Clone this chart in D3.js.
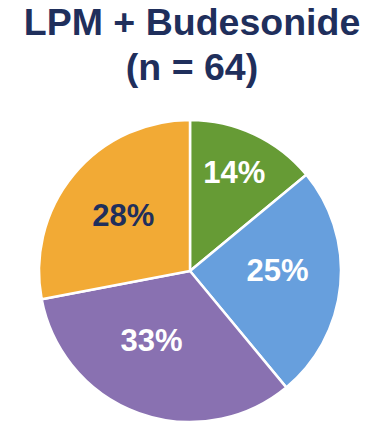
<!DOCTYPE html>
<html>
<head>
<meta charset="utf-8">
<script src="https://cdn.jsdelivr.net/npm/d3@7"></script>
<style>
  html, body { margin: 0; padding: 0; background: #ffffff; }
  svg { display: block; }
</style>
</head>
<body>
<svg id="chart" width="367" height="428"></svg>
<script>
// Share of patients per category, clockwise from 12 o'clock
const categories = ["A", "B", "C", "D"];
const shares = [14, 25, 33, 28];
const sliceColors = ["#669B35", "#679FDD", "#8971B1", "#F2AA35"];
const labelColors = ["#ffffff", "#ffffff", "#ffffff", "#1F2F5C"];
const titleLines = ["LPM + Budesonide", "(n = 64)"];

const svg = d3.select("#chart");
const W = 367;
const cx = 190, cy = 271, R = 151;

// Title
svg.append("g")
  .selectAll("text")
  .data(titleLines)
  .join("text")
  .attr("x", 192)
  .attr("y", (d, i) => 35 + i * 45)
  .attr("text-anchor", "middle")
  .attr("font-family", "'Liberation Sans', Arial, sans-serif")
  .attr("font-weight", "bold")
  .attr("font-size", 37.5)
  .attr("fill", "#1F2F5C")
  .text(d => d);

const data = categories.map((c, i) => ({ cat: c, value: shares[i], i }));

const pie = d3.pie().value(d => d.value).sort(null);
const arcs = pie(data);
const arc = d3.arc().innerRadius(0).outerRadius(R);
const labelArc = d3.arc().innerRadius(R * 0.62).outerRadius(R * 0.62);

// Fine placement of the percentage labels inside each wedge
const labelNudge = { A: [4.5, -14.5], B: [-5.6, -10], C: [-6.7, -19.5], D: [5.4, 4] };

const g = svg.append("g").attr("transform", `translate(${cx},${cy})`);

g.selectAll("path")
  .data(arcs)
  .join("path")
  .attr("d", arc)
  .attr("fill", d => sliceColors[d.data.i])
  .attr("stroke", "#ffffff")
  .attr("stroke-width", 2.5)
  .attr("stroke-linejoin", "miter");

g.selectAll("text.pct")
  .data(arcs)
  .join("text")
  .attr("class", "pct")
  .attr("x", d => labelArc.centroid(d)[0] + labelNudge[d.data.cat][0])
  .attr("y", d => labelArc.centroid(d)[1] + labelNudge[d.data.cat][1])
  .attr("dy", "0.36em")
  .attr("text-anchor", "middle")
  .attr("font-family", "'Liberation Sans', Arial, sans-serif")
  .attr("font-weight", "bold")
  .attr("font-size", 31)
  .attr("fill", d => labelColors[d.data.i])
  .text(d => d.data.value + "%");
</script>
</body>
</html>
